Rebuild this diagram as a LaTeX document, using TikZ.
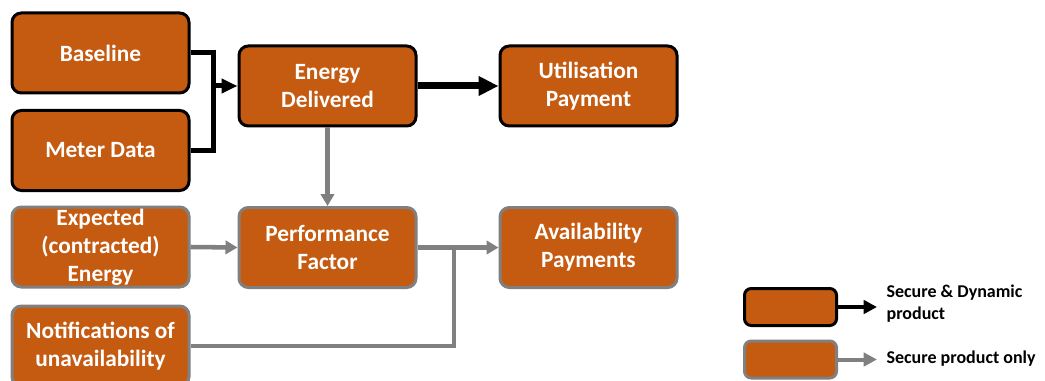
\documentclass[tikz,border=0pt]{standalone}
\usepackage{fontspec}
\setmainfont{Carlito}
\usetikzlibrary{arrows.meta}
\definecolor{rust}{HTML}{C55A11}
\definecolor{midgrey}{HTML}{808080}

\begin{document}
\begin{tikzpicture}[x=0.75pt,y=-0.75pt,
  dynbox/.style={draw=black,line width=2.25pt,fill=rust,rounded corners=7pt,
    minimum width=132.75pt,minimum height=60pt,inner sep=0pt,align=center,
    text=white,font=\fontsize{17.5}{21}\selectfont\bfseries},
  secbox/.style={dynbox,draw=midgrey},
  dynline/.style={draw=black,line width=3.75pt},
  secline/.style={draw=midgrey,line width=3.4pt},
  legtext/.style={anchor=west,align=left,inner xsep=7pt,
    font=\fontsize{13.5}{16.5}\selectfont\bfseries}]
  \useasboundingbox (0,0) rectangle (1045,381);

  % inputs on the left
  \node[dynbox] (base)   at (100.5,53)    {Baseline};
  \node[dynbox] (meter)  at (100.5,150.5) {Meter Data};
  \node[secbox] (expect) at (100.5,247)   {Expected\\(contracted)\\Energy};
  \node[secbox] (notif)  at (100.5,346)   {Notifications of\\unavailability};

  % middle and right columns
  \node[dynbox] (energy) at (327.5,86)    {Energy\\Delivered};
  \node[secbox] (perf)   at (327.5,247.5) {Performance\\Factor};
  \node[dynbox] (util)   at (588.5,86)    {Utilisation\\Payment};
  \node[secbox] (avail)  at (588.5,247.5) {Availability\\Payments};

  % baseline and meter data merge into energy delivered
  \coordinate (merge) at (213,86);
  \draw[dynline,line join=miter] (base.east) -| (merge) |- (meter.east);
  \draw[dynline,-{Triangle[length=12pt,width=10.5pt]}] (merge) -- (energy.west);
  \draw[dynline,line width=5.25pt,-{Triangle[length=15pt,width=14pt]}]
    (energy.east) -- (util.west);

  \draw[secline,-{Triangle[length=9pt,width=10pt]}] (energy.south) -- (perf.north);
  \draw[secline,-{Triangle[length=9pt,width=10pt]}] (expect.east) -- (perf.west);
  \coordinate (tee) at (454,247.5);
  \draw[secline,-{Triangle[length=9pt,width=10pt]}] (perf.east) -- (avail.west);
  \draw[secline] (notif.east) -| (tee);

  % legend
  \node[dynbox,minimum width=69pt,minimum height=27.75pt,rounded corners=5pt] (legdyn) at (790.5,307) {};
  \node[secbox,minimum width=69pt,minimum height=27.75pt,rounded corners=5pt] (legsec) at (790.5,359.5) {};
  \node[legtext] (legdyntxt) at (877,304) {Secure \& Dynamic\\product};
  \node[legtext] (legsectxt) at (877,358.5) {Secure product only};
  \draw[dynline,line width=3pt,-{Triangle[length=10pt,width=10pt]}] (legdyn.east) -- (legdyn.east -| legdyntxt.west);
  \draw[secline,line width=3pt,-{Triangle[length=10pt,width=10pt]}] (legsec.east) -- (legsec.east -| legsectxt.west);
\end{tikzpicture}
\end{document}
